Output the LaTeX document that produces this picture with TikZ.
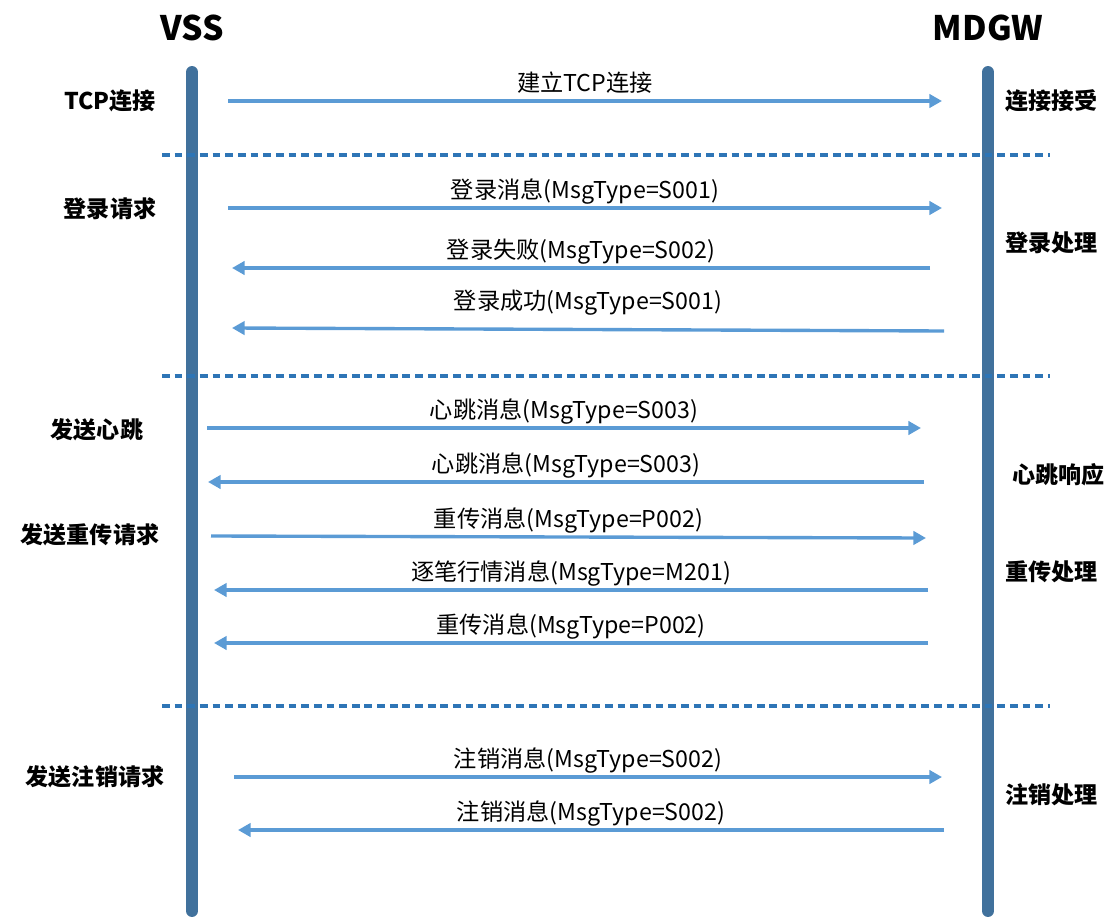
\documentclass[tikz,border=0pt]{standalone}
\usepackage{fontspec}
\setmainfont{Noto Sans CJK SC}
\usetikzlibrary{arrows.meta}
\definecolor{lifeblue}{HTML}{41719C}
\definecolor{msgblue}{HTML}{5B9BD5}
\definecolor{sepblue}{HTML}{2E75B6}
\tikzset{
  lifeline/.style={line width=8.5pt, color=lifeblue, line cap=round},
  sepline/.style={line width=2.5pt, color=sepblue, dash pattern=on 5.5pt off 3.5pt},
  msg/.style={line width=2.4pt, color=msgblue, -{Triangle[length=9pt,width=9.5pt]}},
  msglbl/.style={midway, anchor=base, yshift=7pt, text=black, font=\fontsize{16.5}{19}\selectfont},
  side/.style={font=\fontsize{16.4}{19}\selectfont\bfseries, inner sep=0pt},
  head/.style={font=\fontsize{24}{29}\selectfont\bfseries, inner sep=0pt}
}
\begin{document}
\begin{tikzpicture}[x=0.025cm, y=-0.025cm]
			%%%%% START %%%%%
			\useasboundingbox (0, 0) rectangle (1105, 920);
			
			\node[head] (vss) at (192, 28) {VSS};
			\node[head] (mdgw) at (988, 28) {MDGW};
			
			\draw[lifeline] (192, 72) -- (192, 911);
			\draw[lifeline] (988, 72) -- (988, 911);
			
			\draw[sepline] (162, 155) -- (1050, 155);
			\draw[sepline] (162, 376) -- (1050, 376);
			\draw[sepline] (162, 706) -- (1050, 706);
			
			% left side
			\node[side] (tcp) at (110, 101) {TCP连接};
			\node[side] (login) at (110, 209) {登录请求};
			\node[side] (beat) at (97, 430) {发送心跳};
			\node[side] (resend) at (90, 535) {发送重传请求};
			\node[side] (logout) at (95, 777) {发送注销请求};
			
			% right side
			\node[side, anchor=west] (accept) at (1005, 101) {连接接受};
			\node[side, anchor=west] (loginproc) at (1005, 243) {登录处理};
			\node[side, anchor=west] (beatresp) at (1012, 475) {心跳响应};
			\node[side, anchor=west] (resendproc) at (1005, 572) {重传处理};
			\node[side, anchor=west] (logoutproc) at (1005, 795) {注销处理};
			
			% messages
			\coordinate (m1s) at (228, 101); \coordinate (m1e) at (942, 101);
			\draw[msg] (m1s) -- node[msglbl] {建立TCP连接} (m1e);
			
			\coordinate (m2s) at (228, 208); \coordinate (m2e) at (942, 208);
			\draw[msg] (m2s) -- node[msglbl] {登录消息(MsgType=S001)} (m2e);
			\coordinate (m3s) at (930, 268); \coordinate (m3e) at (232, 268);
			\draw[msg] (m3s) -- node[msglbl] {登录失败(MsgType=S002)} (m3e);
			\coordinate (m4s) at (944, 331); \coordinate (m4e) at (232, 328);
			\draw[msg] (m4s) -- node[msglbl, yshift=7pt] {登录成功(MsgType=S001)} (m4e);
			
			\coordinate (m5s) at (207, 428); \coordinate (m5e) at (921, 428);
			\draw[msg] (m5s) -- node[msglbl] {心跳消息(MsgType=S003)} (m5e);
			\coordinate (m6s) at (924, 482); \coordinate (m6e) at (208, 482);
			\draw[msg] (m6s) -- node[msglbl] {心跳消息(MsgType=S003)} (m6e);
			\coordinate (m7s) at (211, 536); \coordinate (m7e) at (926, 538);
			\draw[msg] (m7s) -- node[msglbl] {重传消息(MsgType=P002)} (m7e);
			\coordinate (m8s) at (928, 590); \coordinate (m8e) at (214, 590);
			\draw[msg] (m8s) -- node[msglbl] {逐笔行情消息(MsgType=M201)} (m8e);
			\coordinate (m9s) at (928, 643); \coordinate (m9e) at (214, 643);
			\draw[msg] (m9s) -- node[msglbl] {重传消息(MsgType=P002)} (m9e);
			
			\coordinate (m10s) at (234, 777); \coordinate (m10e) at (942, 777);
			\draw[msg] (m10s) -- node[msglbl] {注销消息(MsgType=S002)} (m10e);
			\coordinate (m11s) at (944, 830); \coordinate (m11e) at (238, 830);
			\draw[msg] (m11s) -- node[msglbl] {注销消息(MsgType=S002)} (m11e);
			%%%%% END %%%%%
\end{tikzpicture}
\end{document}
